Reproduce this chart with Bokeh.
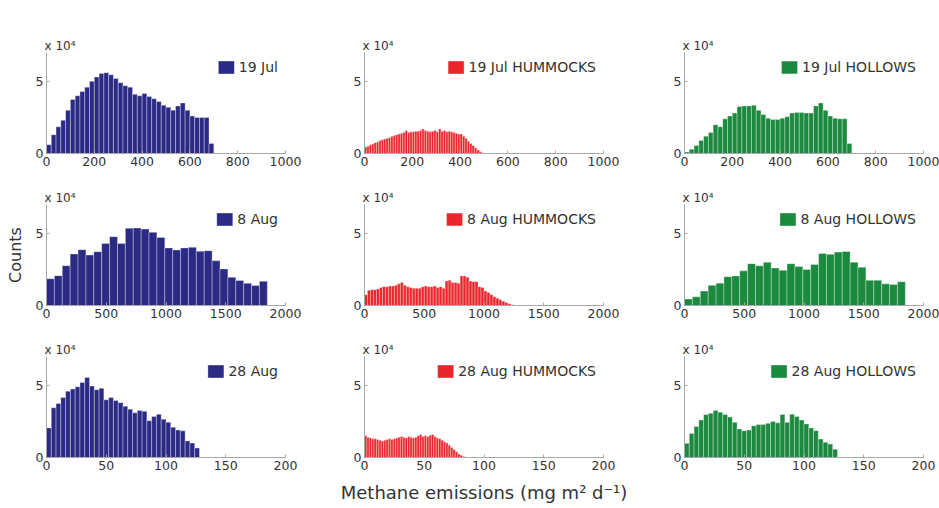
from bokeh.plotting import figure
from bokeh.layouts import gridplot
from bokeh.models import Legend, LegendItem, FixedTicker, Range1d
from bokeh.embed import file_html
from bokeh.resources import INLINE

# ---- data: counts in units of 10^4 per histogram bin ----
dates = ["19 Jul", "8 Aug", "28 Aug"]
groups = ["", " HUMMOCKS", " HOLLOWS"]

jul19_all = [0.6, 1.3, 1.85, 2.3, 3.0, 3.75, 4.0, 4.3, 4.6, 5.0, 5.3, 5.55, 5.6, 5.45, 5.2,
             4.9, 4.7, 4.6, 4.1, 4.0, 4.15, 3.95, 3.8, 3.6, 3.35, 3.2, 3.0, 3.3, 3.5, 3.0,
             2.6, 2.5, 2.5, 2.5, 0.7]
jul19_hum = [0.45, 0.5, 0.6, 0.65, 0.75, 0.8, 0.9, 0.95, 1.0, 1.05, 1.1, 1.2, 1.25, 1.3, 1.35,
             1.4, 1.45, 1.6, 1.45, 1.5, 1.5, 1.55, 1.55, 1.6, 1.7, 1.6, 1.55, 1.5, 1.55, 1.6,
             1.5, 1.7, 1.55, 1.6, 1.5, 1.55, 1.5, 1.45, 1.4, 1.35, 1.35, 1.2, 1.05, 0.85, 0.7,
             0.55, 0.4, 0.25, 0.12, 0.05]
jul19_hol = [0.1, 0.3, 0.55, 0.9, 1.2, 1.45, 2.0, 1.85, 2.4, 2.6, 2.8, 3.25, 3.3, 3.3, 3.35,
             3.0, 2.7, 2.45, 2.35, 2.35, 2.45, 2.55, 2.8, 2.85, 2.85, 2.8, 2.8, 3.3, 3.5, 3.0,
             2.6, 2.45, 2.4, 2.4, 0.7]
aug8_all = [1.85, 2.07, 2.76, 3.57, 3.87, 3.5, 3.73, 4.3, 4.77, 4.3, 5.35, 5.37, 5.3, 5.07,
            4.72, 3.99, 3.85, 3.99, 4.03, 3.76, 3.8, 3.1, 2.53, 1.96, 1.73, 1.54, 1.38, 1.68]
aug8_hum = [0.75, 1.05, 1.1, 1.1, 1.15, 1.25, 1.3, 1.3, 1.35, 1.35, 1.4, 1.5, 1.6, 1.4, 1.3,
            1.25, 1.2, 1.2, 1.2, 1.3, 1.35, 1.3, 1.3, 1.35, 1.25, 1.3, 1.2, 1.7, 1.75, 1.6,
            1.6, 1.55, 2.05, 2.05, 1.95, 1.7, 1.65, 1.65, 1.3, 1.25, 1.0, 0.9, 0.75, 0.6, 0.5,
            0.4, 0.3, 0.2, 0.12, 0.05]
aug8_hol = [0.45, 0.6, 1.0, 1.4, 1.55, 2.0, 2.05, 2.4, 2.9, 2.75, 3.0, 2.6, 2.45, 2.9, 2.7,
            2.5, 2.85, 3.6, 3.55, 3.7, 3.75, 3.0, 2.65, 1.75, 1.75, 1.5, 1.45, 1.65]
aug28_all = [2.05, 3.45, 3.75, 4.15, 4.6, 4.75, 4.9, 5.2, 5.55, 4.95, 4.7, 4.8, 4.0, 4.15, 3.95,
             3.8, 3.55, 3.35, 3.1, 3.25, 3.2, 2.55, 2.85, 3.0, 2.65, 2.45, 2.1, 1.9, 1.85, 1.15,
             1.0, 0.65]
aug28_hum = [1.5, 1.4, 1.35, 1.3, 1.3, 1.25, 1.2, 1.15, 1.2, 1.25, 1.3, 1.25, 1.3, 1.35, 1.4,
             1.45, 1.4, 1.35, 1.45, 1.4, 1.35, 1.4, 1.5, 1.6, 1.45, 1.5, 1.45, 1.55, 1.6, 1.45,
             1.35, 1.3, 1.2, 1.1, 1.0, 0.85, 0.7, 0.55, 0.4, 0.25, 0.15, 0.07]
aug28_hol = [0.98, 1.67, 2.14, 2.6, 2.98, 3.07, 3.25, 3.14, 2.98, 2.8, 2.44, 1.98, 1.86, 1.9,
             2.2, 2.28, 2.28, 2.37, 2.5, 2.4, 2.98, 2.44, 3.0, 2.84, 2.6, 2.33, 2.05, 1.86, 1.28,
             1.05, 0.93, 0.58]

series = [[jul19_all, jul19_hum, jul19_hol],
          [aug8_all, aug8_hum, aug8_hol],
          [aug28_all, aug28_hum, aug28_hol]]
bin_widths = [[20, 10, 20], [66, 25, 66], [4, 2, 4]]
x_max = [1000, 2000, 200]
x_ticks = [[0, 200, 400, 600, 800, 1000],
           [0, 500, 1000, 1500, 2000],
           [0, 50, 100, 150, 200]]
y_ticks = [0, 5]
y_max = 7

colors = ["#2b2b86", "#e8262b", "#1c8a3e"]
FONT = "DejaVu Sans"
AX = "#a8a8a8"
TXT = "#333333"

border_top = [52, 29, 29]
border_bottom = [22, 22, 51]
border_left = [46, 46, 46]
border_right = [33, 35, 16]

rows = []
for r in range(3):
    row = []
    for c in range(3):
        vals = series[r][c]
        w = bin_widths[r][c]
        lefts = [i * w for i in range(len(vals))]
        rights = [(i + 1) * w for i in range(len(vals))]
        p = figure(frame_width=239, frame_height=101, output_backend="svg",
                   toolbar_location=None, x_range=Range1d(0, x_max[r]),
                   y_range=Range1d(0, y_max),
                   min_border_top=border_top[r], min_border_bottom=border_bottom[r],
                   min_border_left=border_left[c], min_border_right=border_right[c],
                   title="x 10\u2074")
        p.title.text_font = FONT
        p.title.text_font_size = "12px"
        p.title.text_font_style = "normal"
        p.title.text_color = TXT
        p.title.standoff = 0
        p.title.offset = -2
        p.outline_line_color = None
        p.xgrid.visible = False
        p.ygrid.visible = False
        rend = p.quad(left=lefts, right=rights, bottom=0, top=vals,
                      fill_color=colors[c], line_color="white", line_width=0.6,
                      line_alpha=0.55)
        for ax in (p.xaxis[0], p.yaxis[0]):
            ax.axis_line_color = AX
            ax.major_tick_line_color = AX
            ax.major_tick_in = 3
            ax.major_tick_out = 0
            ax.minor_tick_line_color = None
            ax.major_label_text_font = FONT
            ax.major_label_text_font_size = "12.5px"
            ax.major_label_text_color = TXT
            ax.major_label_standoff = 3
        p.xaxis.ticker = FixedTicker(ticks=x_ticks[r])
        p.yaxis.ticker = FixedTicker(ticks=y_ticks)
        if r == 1 and c == 0:
            p.yaxis.axis_label = "Counts"
            p.yaxis.axis_label_text_font = FONT
            p.yaxis.axis_label_text_font_size = "16px"
            p.yaxis.axis_label_text_font_style = "normal"
            p.yaxis.axis_label_text_color = TXT
            p.yaxis.axis_label_standoff = 8
        if r == 2 and c == 1:
            p.xaxis.axis_label = "Methane emissions (mg m\u00b2 d\u207b\u00b9)"
            p.xaxis.axis_label_text_font = FONT
            p.xaxis.axis_label_text_font_size = "18px"
            p.xaxis.axis_label_text_font_style = "normal"
            p.xaxis.axis_label_text_color = TXT
            p.xaxis.axis_label_standoff = 9
        legend = Legend(items=[LegendItem(label=dates[r] + groups[c], renderers=[rend])],
                        location="top_right", border_line_alpha=0,
                        background_fill_alpha=0, label_text_font=FONT,
                        label_text_font_size="14px", label_text_color=TXT,
                        glyph_width=20, glyph_height=16, label_standoff=3,
                        margin=4, padding=3, label_height=16)
        p.add_layout(legend)
        row.append(p)
    rows.append(row)

grid = gridplot(rows, toolbar_location=None)
open("out.html", "w").write(file_html(grid, INLINE))
